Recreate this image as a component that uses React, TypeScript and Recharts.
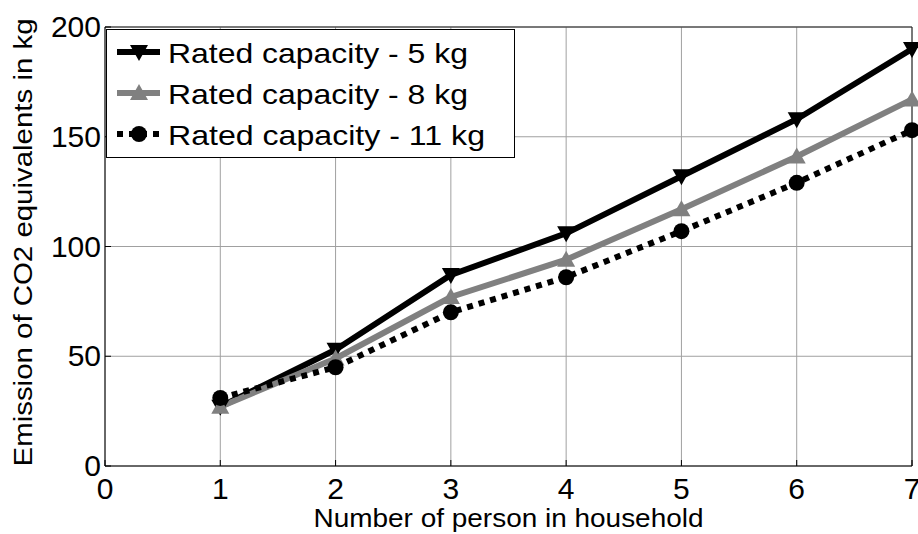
import React from 'react';
import {
  LineChart,
  Line,
  XAxis,
  YAxis,
  CartesianGrid,
  ReferenceLine,
  Label
} from 'recharts';

// household size vs. emission per washing machine capacity
const persons = [1, 2, 3, 4, 5, 6, 7];
const cap5 = [27, 53, 87, 106, 132, 158, 190];
const cap8 = [27, 49, 77, 94, 117, 141, 167];
const cap11 = [31, 45, 70, 86, 107, 129, 153];

const xTicks = [0, 1, 2, 3, 4, 5, 6, 7];
const yTicks = [0, 50, 100, 150, 200];

const seriesNames = ['Rated capacity - 5 kg', 'Rated capacity - 8 kg', 'Rated capacity - 11 kg'];

const data = persons.map((p, i) => ({
  persons: p,
  cap5: cap5[i],
  cap8: cap8[i],
  cap11: cap11[i]
}));

const FONT = '"Liberation Sans", Arial, sans-serif';

const DownTriangle = (props: any) => {
  const { cx, cy, fill } = props;
  if (cx == null || cy == null) return null;
  return <path key={props.index} d={`M${cx - 9},${cy - 7} L${cx + 9},${cy - 7} L${cx},${cy + 9} Z`} fill={fill} />;
};

const UpTriangle = (props: any) => {
  const { cx, cy, fill } = props;
  if (cx == null || cy == null) return null;
  return <path key={props.index} d={`M${cx - 9},${cy + 7} L${cx + 9},${cy + 7} L${cx},${cy - 9} Z`} fill={fill} />;
};

const Circle = (props: any) => {
  const { cx, cy, fill } = props;
  if (cx == null || cy == null) return null;
  return <circle key={props.index} cx={cx} cy={cy} r={8} fill={fill} />;
};

// ticks point inward, matlab style
const XTick = (props: any) => {
  const { x, y, payload } = props;
  return (
    <g>
      <line x1={x} x2={x} y1={y - 2} y2={y - 8} stroke="#000" strokeWidth={1} />
      <text x={x} y={y + 31} textAnchor="middle" fontFamily={FONT} fontSize={30} fill="#000">
        {payload.value}
      </text>
    </g>
  );
};

const YTick = (props: any) => {
  const { x, y, payload } = props;
  return (
    <g>
      <line x1={x + 2} x2={x + 8} y1={y} y2={y} stroke="#000" strokeWidth={1} />
      <text x={x - 2} y={y + 10} textAnchor="end" fontFamily={FONT} fontSize={30} fill="#000">
        {payload.value}
      </text>
    </g>
  );
};

const YTitle = (props: any) => {
  const { viewBox } = props;
  const cy = viewBox.y + viewBox.height / 2 - 4;
  return (
    <text
      transform={`translate(32,${cy}) rotate(-90)`}
      textAnchor="middle"
      fontFamily={FONT}
      fontSize={26}
      textLength={448}
      lengthAdjust="spacingAndGlyphs"
      fill="#000"
    >
      Emission of CO2 equivalents in kg
    </text>
  );
};

const XTitle = (props: any) => {
  const { viewBox } = props;
  const cx = viewBox.x + viewBox.width / 2;
  return (
    <text
      x={cx}
      y={527}
      textAnchor="middle"
      fontFamily={FONT}
      fontSize={26}
      textLength={390}
      lengthAdjust="spacingAndGlyphs"
      fill="#000"
    >
      Number of person in household
    </text>
  );
};

const legendRows = [
  { color: '#000', dash: undefined as string | undefined, marker: 'down', width: 300 },
  { color: '#808080', dash: undefined as string | undefined, marker: 'up', width: 300 },
  { color: '#000', dash: '6 6', marker: 'circle', width: 317 }
];

const LegendBox = () => (
  <svg width={409} height={129} style={{ display: 'block' }}>
    <rect x={0.5} y={0.5} width={408} height={128} fill="#fff" stroke="#000" strokeWidth={1} />
    {legendRows.map((r, i) => {
      const cy = 23 + i * 41;
      return (
        <g key={i}>
          <line x1={11} x2={54} y1={cy} y2={cy} stroke={r.color} strokeWidth={6} strokeDasharray={r.dash} />
          {r.marker === 'down' && <DownTriangle cx={33} cy={cy} fill={r.color} />}
          {r.marker === 'up' && <UpTriangle cx={33} cy={cy} fill={r.color} />}
          {r.marker === 'circle' && <Circle cx={33} cy={cy} fill={r.color} />}
          <text
            x={62}
            y={cy + 11}
            fontFamily={FONT}
            fontSize={28}
            textLength={r.width}
            lengthAdjust="spacingAndGlyphs"
            fill="#000"
          >
            {seriesNames[i]}
          </text>
        </g>
      );
    })}
  </svg>
);

const App: React.FC = () => {
  return (
    <div style={{ position: 'absolute', left: 0, top: 0, width: 918, height: 534, background: '#fff' }}>
      <LineChart
        width={918}
        height={534}
        data={data}
        margin={{ top: 27, right: 6, left: 0, bottom: 0 }}
      >
        <CartesianGrid stroke="#a0a0a0" strokeWidth={1} />
        <XAxis
          dataKey="persons"
          type="number"
          domain={[0, 7]}
          ticks={xTicks}
          height={68}
          tickSize={0}
          tickMargin={2}
          tickLine={false}
          stroke="#000"
          tick={<XTick />}
        >
          <Label content={<XTitle />} />
        </XAxis>
        <YAxis
          type="number"
          domain={[0, 200]}
          ticks={yTicks}
          width={105}
          tickSize={0}
          tickMargin={2}
          tickLine={false}
          stroke="#000"
          tick={<YTick />}
        >
          <Label content={<YTitle />} />
        </YAxis>
        <ReferenceLine y={200} stroke="#222" strokeWidth={1} />
        <ReferenceLine x={7} stroke="#222" strokeWidth={1} />
        <Line
          dataKey="cap5"
          name={seriesNames[0]}
          stroke="#000"
          strokeWidth={6}
          fill="#000"
          dot={<DownTriangle fill="#000" />}
          activeDot={false}
          isAnimationActive={false}
        />
        <Line
          dataKey="cap8"
          name={seriesNames[1]}
          stroke="#808080"
          strokeWidth={6}
          fill="#808080"
          dot={<UpTriangle fill="#808080" />}
          activeDot={false}
          isAnimationActive={false}
        />
        <Line
          dataKey="cap11"
          name={seriesNames[2]}
          stroke="#000"
          strokeWidth={6}
          strokeDasharray="6 6"
          fill="#000"
          dot={<Circle fill="#000" />}
          activeDot={false}
          isAnimationActive={false}
        />
      </LineChart>
      <div style={{ position: 'absolute', left: 106, top: 29 }}>
        <LegendBox />
      </div>
    </div>
  );
};

export default App;
